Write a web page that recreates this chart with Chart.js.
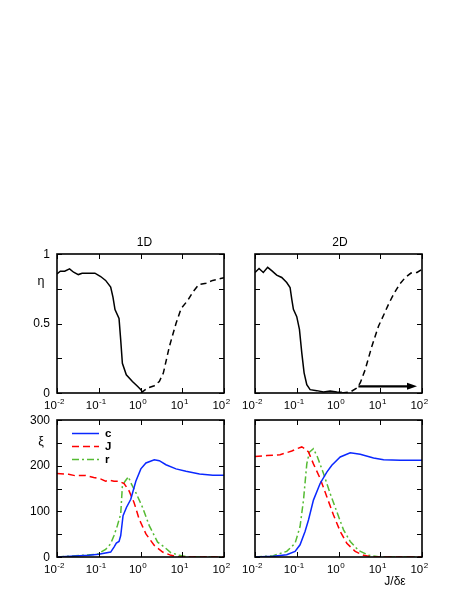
<!DOCTYPE html>
<html>
<head>
<meta charset="utf-8">
<script src="https://cdn.jsdelivr.net/npm/chart.js@4"></script>
<style>
html, body { margin: 0; padding: 0; background: #fff; }
#wrap { position: relative; width: 471px; height: 609px; }
#wrap canvas { position: absolute; left: 0; top: 0; }
</style>
</head>
<body>
<div id="wrap">
  <canvas id="tl" width="471" height="609"></canvas>
  <canvas id="tr" width="471" height="609"></canvas>
  <canvas id="bl" width="471" height="609"></canvas>
  <canvas id="br" width="471" height="609"></canvas>
</div>
<script>
// axis ticks
const xMajorTicks = [0.01, 0.1, 1, 10, 100];
const xTickExponents = ['-2', '-1', '0', '1', '2'];
const etaTicks = [0, 0.25, 0.5, 0.75, 1];
const etaTickLabels = ['0', '', '0.5', '', '1'];
const xiTicks = [0, 50, 100, 150, 200, 250, 300];
const xiTickLabels = ['0', '', '100', '', '200', '', '300'];

// eta, 1D
const eta1DSolidX = [0.01, 0.012, 0.0153, 0.02, 0.025, 0.0324, 0.04, 0.081, 0.111, 0.146, 0.193, 0.219, 0.245, 0.306, 0.336, 0.368, 0.457, 0.641, 0.847, 1.02, 1.12];
const eta1DSolidY = [0.857, 0.876, 0.876, 0.893, 0.869, 0.852, 0.862, 0.862, 0.838, 0.81, 0.762, 0.69, 0.6, 0.536, 0.38, 0.214, 0.131, 0.083, 0.048, 0.024, 0.005];
const eta1DDashX = [1.02, 1.48, 2.14, 2.82, 3.52, 4.9, 7.08, 9.38, 13.6, 17.9, 25, 37.2, 53.7, 100];
const eta1DDashY = [0, 0.036, 0.052, 0.083, 0.143, 0.333, 0.5, 0.607, 0.667, 0.726, 0.781, 0.79, 0.81, 0.829];

// eta, 2D
const eta2DSolidX = [0.01, 0.0125, 0.0158, 0.0201, 0.0251, 0.0331, 0.0437, 0.0575, 0.0692, 0.0759, 0.0832, 0.1, 0.116, 0.132, 0.15, 0.174, 0.209, 0.302, 0.437, 0.631, 0.912, 1.2];
const eta2DSolidY = [0.867, 0.896, 0.867, 0.904, 0.88, 0.848, 0.831, 0.795, 0.759, 0.675, 0.602, 0.549, 0.458, 0.289, 0.145, 0.06, 0.024, 0.017, 0.007, 0.014, 0.007, 0.005];
const eta2DDashX = [1.2, 1.91, 2.75, 3.31, 4.37, 6.31, 9.12, 12, 15.8, 20.9, 29.1, 39.8, 54.4, 75.9, 100];
const eta2DDashY = [0, 0.007, 0.036, 0.072, 0.169, 0.337, 0.482, 0.559, 0.639, 0.711, 0.783, 0.831, 0.863, 0.867, 0.89];
const arrow2D = { from: 3.0, to: 76, at: 0.048 };

// xi, 1D
const xi1DcX = [0.01, 0.0575, 0.1, 0.193, 0.232, 0.264, 0.306, 0.336, 0.382, 0.46, 0.585, 0.773, 1.02, 1.35, 2.14, 2.82, 4.07, 7.08, 12.3, 25.9, 54.3, 100];
const xi1Dc = [0, 3.6, 5.8, 10.8, 21.7, 30.4, 34, 47, 90.4, 108.5, 126.5, 166, 193, 206, 213, 211, 202, 193, 188, 182, 179, 179];
const xi1DJX = [0.01, 0.019, 0.0275, 0.0479, 0.0759, 0.11, 0.146, 0.176, 0.232, 0.306, 0.404, 0.533, 0.703, 0.929, 1.35, 2.14, 3.39, 5.37, 8.51, 100];
const xi1DJ = [183, 181, 178, 178.6, 174, 171, 166, 168, 166, 166, 161, 144.6, 119, 83, 50.6, 25.3, 10.8, 3.6, 0, 0];
const xi1DrX = [0.01, 0.0398, 0.0912, 0.146, 0.193, 0.232, 0.279, 0.336, 0.368, 0.427, 0.514, 0.585, 0.773, 1.12, 1.62, 2.57, 3.72, 5.37, 8.51, 14.8, 100];
const xi1Dr = [0, 3.6, 5.8, 16.6, 29, 47, 68.7, 94, 155.5, 166, 175.7, 162.7, 141, 108.5, 68.7, 32.5, 21.7, 9.4, 3.6, 0, 0];

// xi, 2D
const xi2DcX = [0.01, 0.0275, 0.0575, 0.0912, 0.12, 0.158, 0.191, 0.251, 0.363, 0.525, 0.692, 1.1, 1.91, 3.31, 6.92, 12, 30.2, 100];
const xi2Dc = [0, 1.4, 5, 12.3, 26.8, 55.8, 81, 124.6, 161, 186, 201, 219, 228, 225, 217, 213, 212, 212];
const xi2DJX = [0.01, 0.019, 0.0398, 0.0631, 0.0759, 0.1, 0.132, 0.158, 0.191, 0.251, 0.363, 0.525, 0.759, 1.1, 1.58, 2.51, 3.98, 6.92, 100];
const xi2DJ = [220, 222, 224, 229.6, 232, 237, 241, 237, 230, 204, 172, 132, 92, 56, 30, 12.3, 3.6, 0, 0];
const xi2DrX = [0.01, 0.0275, 0.0575, 0.0912, 0.12, 0.145, 0.174, 0.201, 0.251, 0.313, 0.437, 0.631, 0.912, 1.32, 1.91, 3.02, 5.25, 10, 100];
const xi2Dr = [0, 2.9, 12.3, 30, 66.7, 124.6, 204, 229.6, 237, 219, 183, 139, 99, 59.4, 34, 14.5, 3.6, 0, 0];

const FONT = '"Liberation Sans", Arial, sans-serif';

function pts(xs, ys) {
    return xs.map((v, i) => ({ x: v, y: ys[i] }));
}

function line(ctx, x0, y0, x1, y1) {
    ctx.beginPath();
    ctx.moveTo(x0, y0);
    ctx.lineTo(x1, y1);
    ctx.stroke();
}

const framePlugin = {
    id: 'frame',
    afterDatasetsDraw(chart, args, opts) {
        const { ctx, chartArea: a } = chart;
        const x = chart.scales.x, y = chart.scales.y;
        ctx.save();
        ctx.strokeStyle = '#000';
        ctx.fillStyle = '#000';

        if (opts.arrow) {
            const x0 = x.getPixelForValue(opts.arrow.from);
            const x1 = x.getPixelForValue(opts.arrow.to);
            const yy = y.getPixelForValue(opts.arrow.at);
            ctx.lineWidth = 2.3;
            line(ctx, x0, yy, x1 - 8, yy);
            ctx.beginPath();
            ctx.moveTo(x1, yy);
            ctx.lineTo(x1 - 10, yy - 3.5);
            ctx.lineTo(x1 - 10, yy + 3.5);
            ctx.closePath();
            ctx.fill();
        }

        // tick marks, inward on all four sides
        ctx.lineWidth = 1;
        x.ticks.forEach(t => {
            const px = Math.round(x.getPixelForValue(t.value)) + 0.5;
            const len = t.major ? 5 : 3;
            line(ctx, px, a.bottom, px, a.bottom - len);
            line(ctx, px, a.top, px, a.top + len);
        });
        y.ticks.forEach(t => {
            const py = Math.round(y.getPixelForValue(t.value)) + 0.5;
            line(ctx, a.left, py, a.left + 5, py);
            line(ctx, a.right, py, a.right - 5, py);
        });

        ctx.lineWidth = 1.6;
        ctx.strokeRect(a.left, a.top, a.right - a.left, a.bottom - a.top);

        // x tick labels: 10^n
        ctx.textBaseline = 'alphabetic';
        ctx.textAlign = 'left';
        xMajorTicks.forEach((v, i) => {
            const px = x.getPixelForValue(v);
            ctx.font = '11.5px ' + FONT;
            const wb = ctx.measureText('10').width;
            ctx.font = '8px ' + FONT;
            const ws = ctx.measureText(xTickExponents[i]).width;
            const sx = px - 3 - (wb + ws) / 2;
            ctx.font = '11.5px ' + FONT;
            ctx.fillText('10', sx, a.bottom + 15.5);
            ctx.font = '8px ' + FONT;
            ctx.fillText(xTickExponents[i], sx + wb + 0.5, a.bottom + 10.5);
        });

        // y tick labels
        if (opts.yLabels) {
            ctx.font = '12px ' + FONT;
            ctx.textAlign = 'right';
            ctx.textBaseline = 'middle';
            opts.yLabels.forEach((s, i) => {
                if (!s) return;
                ctx.fillText(s, a.left - 7, y.getPixelForValue(opts.yTicks[i]) + 0.5);
            });
        }

        ctx.textAlign = 'center';
        ctx.textBaseline = 'middle';
        if (opts.title) {
            ctx.font = '12px ' + FONT;
            ctx.fillText(opts.title, (a.left + a.right) / 2 + opts.titleShift, a.top - 11);
        }
        if (opts.yTitle) {
            ctx.font = '12.5px ' + FONT;
            ctx.fillText(opts.yTitle, a.left - 16, a.top + opts.yTitleDy);
        }
        if (opts.xTitle) {
            ctx.font = '12px ' + FONT;
            ctx.fillText(opts.xTitle, a.right - 27, a.bottom + 25);
        }

        // legend
        if (opts.legend) {
            chart.data.datasets.forEach((ds, i) => {
                const ly = a.top + 13.5 + i * 13;
                ctx.strokeStyle = ds.borderColor;
                ctx.lineWidth = ds.borderWidth;
                ctx.setLineDash(ds.borderDash || []);
                line(ctx, a.left + 15, ly, a.left + 42, ly);
                ctx.setLineDash([]);
                ctx.font = 'bold 11.5px ' + FONT;
                ctx.textAlign = 'left';
                ctx.fillStyle = '#000';
                ctx.fillText(ds.label, a.left + 48, ly + 0.5);
            });
        }
        ctx.restore();
    }
};

function xTicksBuild(scale) {
    const list = [];
    for (let i = 0; i < xMajorTicks.length - 1; i++) {
        for (let m = 1; m <= 9; m++) {
            list.push({ value: m * xMajorTicks[i], major: m === 1 });
        }
    }
    list.push({ value: xMajorTicks[xMajorTicks.length - 1], major: true });
    scale.ticks = list;
}

function panel(id, padding, yMax, yTicks, datasets, frame) {
    new Chart(document.getElementById(id), {
        type: 'line',
        data: { datasets: datasets },
        options: {
            responsive: false,
            animation: false,
            devicePixelRatio: 1,
            layout: { padding: padding },
            elements: { point: { radius: 0 }, line: { tension: 0 } },
            scales: {
                x: { type: 'logarithmic', min: 0.01, max: 100, display: false, afterBuildTicks: xTicksBuild },
                y: {
                    type: 'linear', min: 0, max: yMax, display: false,
                    afterBuildTicks: s => { s.ticks = yTicks.map(v => ({ value: v })); }
                }
            },
            plugins: {
                legend: { display: false },
                tooltip: { enabled: false },
                frame: frame
            }
        },
        plugins: [framePlugin]
    });
}

function etaSets(sx, sy, dx, dy) {
    return [
        { label: 'solid', data: pts(sx, sy), borderColor: '#000', borderWidth: 1.5, fill: false },
        { label: 'dashed', data: pts(dx, dy), borderColor: '#000', borderWidth: 1.5, borderDash: [6, 4], fill: false }
    ];
}

function xiSets(cx, c, jx, j, rx, r) {
    return [
        { label: 'c', data: pts(cx, c), borderColor: '#0a28ff', borderWidth: 1.5, fill: false },
        { label: 'J', data: pts(jx, j), borderColor: '#ff0000', borderWidth: 1.5, borderDash: [7, 4], fill: false },
        { label: 'r', data: pts(rx, r), borderColor: '#55bb33', borderWidth: 1.5, borderDash: [7, 3, 2, 3], fill: false }
    ];
}

panel('tl', { left: 57, top: 254, right: 247, bottom: 216 }, 1, etaTicks,
    etaSets(eta1DSolidX, eta1DSolidY, eta1DDashX, eta1DDashY),
    { yLabels: etaTickLabels, yTicks: etaTicks, title: '1D', titleShift: 4, yTitle: 'η', yTitleDy: 28 });

panel('tr', { left: 255, top: 254, right: 49, bottom: 216 }, 1, etaTicks,
    etaSets(eta2DSolidX, eta2DSolidY, eta2DDashX, eta2DDashY),
    { title: '2D', titleShift: 1.5, arrow: arrow2D });

panel('bl', { left: 57, top: 420, right: 247, bottom: 52 }, 300, xiTicks,
    xiSets(xi1DcX, xi1Dc, xi1DJX, xi1DJ, xi1DrX, xi1Dr),
    { yLabels: xiTickLabels, yTicks: xiTicks, yTitle: 'ξ', yTitleDy: 22, legend: true });

panel('br', { left: 255, top: 420, right: 49, bottom: 52 }, 300, xiTicks,
    xiSets(xi2DcX, xi2Dc, xi2DJX, xi2DJ, xi2DrX, xi2Dr),
    { xTitle: 'J/δε' });
</script>
</body>
</html>
